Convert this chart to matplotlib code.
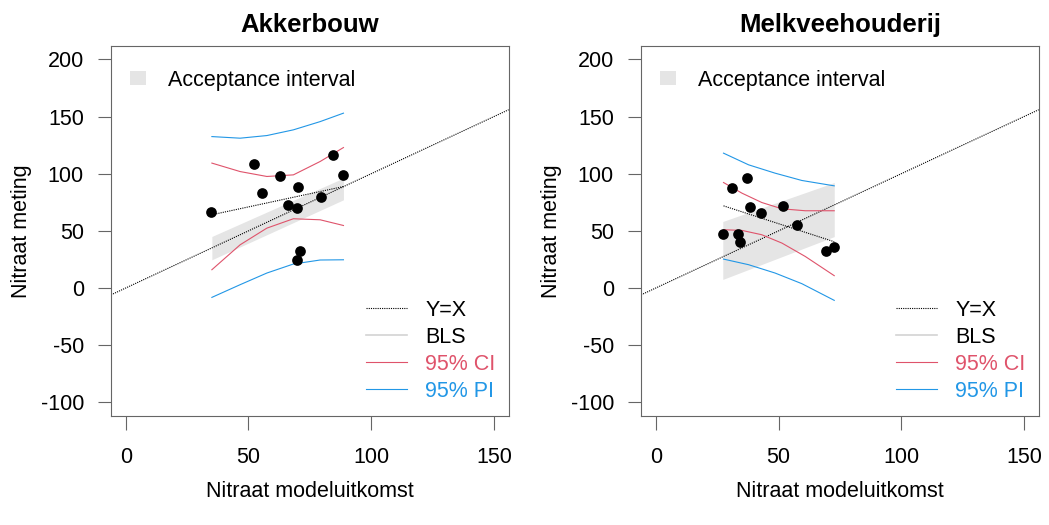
"""Model vs. measurement nitrate, two sectors side by side."""
import matplotlib.pyplot as plt
from matplotlib.lines import Line2D
from matplotlib.patches import Patch

plt.rcParams['font.family'] = ['Liberation Sans', 'DejaVu Sans']
plt.rcParams['axes.unicode_minus'] = False

X_TICKS = [0, 50, 100, 150]
Y_TICKS = [-100, -50, 0, 50, 100, 150, 200]
TITLES = ['Akkerbouw', 'Melkveehouderij']

# --- Akkerbouw ---
akker_model = [34.8, 52.3, 55.4, 62.9, 70.1, 66.0, 69.6, 79.5, 84.4, 88.7, 70.8, 69.8]
akker_meting = [66.1, 108.7, 83.0, 98.2, 88.8, 72.2, 69.9, 79.8, 116.5, 99.3, 32.6, 24.7]
akker_bls_x = [35.1, 88.7]
akker_bls_y = [64.1, 88.8]
akker_band_x = [35.1, 88.7]
akker_band_lo = [24.7, 77.2]
akker_band_hi = [45.1, 96.2]
akker_ci_x = [35.1, 46.6, 57.5, 68.3, 79.2, 88.7]
akker_ci_hi = [109.3, 101.9, 97.6, 99.0, 110.7, 122.9]
akker_ci_lo = [16.0, 37.8, 52.4, 60.6, 59.7, 54.7]
akker_pi_x = [35.1, 46.6, 57.5, 68.3, 79.2, 88.7]
akker_pi_hi = [132.5, 131.1, 133.4, 138.4, 145.6, 153.0]
akker_pi_lo = [-8.2, 2.9, 13.1, 21.0, 24.5, 24.7]

# --- Melkveehouderij ---
melk_model = [27.2, 31.2, 37.2, 33.4, 34.5, 38.4, 42.8, 51.8, 57.7, 69.5, 72.7]
melk_meting = [47.5, 87.9, 96.2, 47.5, 39.9, 70.5, 65.6, 71.9, 54.7, 32.3, 35.8]
melk_bls_x = [27.6, 72.7]
melk_bls_y = [71.9, 40.5]
melk_band_x = [27.3, 72.7]
melk_band_lo = [7.5, 45.0]
melk_band_hi = [58.2, 92.3]
melk_ci_x = [27.6, 35.1, 43.2, 51.4, 60.9, 72.7]
melk_ci_hi = [92.3, 83.0, 74.8, 69.3, 67.6, 67.6]
melk_ci_lo = [51.0, 50.4, 46.6, 39.3, 27.6, 10.8]
melk_pi_x = [27.6, 37.8, 48.6, 59.5, 72.7]
melk_pi_hi = [118.0, 107.8, 100.5, 94.1, 89.4]
melk_pi_lo = [25.3, 20.4, 13.1, 3.8, -10.8]

BAND_COL = '#e5e5e5'
CI_COL = '#DF536B'
PI_COL = '#2297E6'
BLS_COL = '#d3d3d3'
AXIS_COL = '#666666'
FS = 15.5


def panel(ax, title, mx, my, bls_x, bls_y, band_x, band_lo, band_hi,
          ci_x, ci_lo, ci_hi, pi_x, pi_lo, pi_hi):
    ax.fill_between(band_x, band_lo, band_hi, color=BAND_COL, lw=0, zorder=1)
    ax.axline((0, 0), slope=1, color='black', lw=0.8, ls=(0, (1, 1)), zorder=2)
    ax.plot(bls_x, bls_y, color='black', lw=0.8, ls=(0, (1, 1)), zorder=2)
    ax.plot(ci_x, ci_hi, color=CI_COL, lw=0.8, zorder=3)
    ax.plot(ci_x, ci_lo, color=CI_COL, lw=0.8, zorder=3)
    ax.plot(pi_x, pi_hi, color=PI_COL, lw=0.8, zorder=3)
    ax.plot(pi_x, pi_lo, color=PI_COL, lw=0.8, zorder=3)
    ax.plot(mx, my, 'o', color='black', ms=7.7, mew=0, zorder=4)

    ax.set_xlim(-6, 156)
    ax.set_ylim(-112, 212)
    ax.set_xticks(X_TICKS)
    ax.set_yticks(Y_TICKS)
    ax.tick_params(axis='both', direction='out', color=AXIS_COL, width=0.8,
                   labelsize=FS)
    ax.tick_params(axis='x', length=10, pad=12)
    ax.tick_params(axis='y', length=9.5, pad=10)
    for s in ax.spines.values():
        s.set_color(AXIS_COL)
        s.set_linewidth(0.8)

    ax.set_title(title, fontsize=18.5, fontweight='bold', pad=10)
    ax.set_xlabel('Nitraat modeluitkomst', fontsize=FS)
    ax.set_ylabel('Nitraat meting', fontsize=FS)
    ax.xaxis.set_label_coords(0.5, -0.175)
    ax.yaxis.set_label_coords(-0.199, 0.5)

    # two legends: band top-left, lines bottom-right
    band_h = [Patch(facecolor=BAND_COL, edgecolor='none')]
    leg1 = ax.legend(band_h, ['Acceptance interval'], loc='center left',
                     bbox_to_anchor=(0.048, 0.907), frameon=False, fontsize=FS,
                     borderpad=0, borderaxespad=0, handlelength=0.75,
                     handleheight=0.57, handletextpad=1.0)
    ax.add_artist(leg1)
    line_h = [
        Line2D([], [], color='black', lw=0.8, ls=(0, (1, 1))),
        Line2D([], [], color=BLS_COL, lw=1.2),
        Line2D([], [], color=CI_COL, lw=0.8),
        Line2D([], [], color=PI_COL, lw=0.8),
    ]
    ax.legend(line_h, ['Y=X', 'BLS', '95% CI', '95% PI'], loc='lower left',
              bbox_to_anchor=(0.641, 0.038), frameon=False, fontsize=FS,
              borderpad=0, borderaxespad=0, handlelength=1.9,
              handletextpad=0.85, labelspacing=0.28,
              labelcolor=['black', 'black', CI_COL, PI_COL])


def main():
    fig = plt.figure(figsize=(10.49, 5.25), dpi=100)
    ax1 = fig.add_axes([0.1058, 0.2076, 0.3791, 0.7053])
    ax2 = fig.add_axes([0.6111, 0.2076, 0.3791, 0.7053])
    panel(ax1, TITLES[0], akker_model, akker_meting, akker_bls_x, akker_bls_y,
          akker_band_x, akker_band_lo, akker_band_hi,
          akker_ci_x, akker_ci_lo, akker_ci_hi,
          akker_pi_x, akker_pi_lo, akker_pi_hi)
    panel(ax2, TITLES[1], melk_model, melk_meting, melk_bls_x, melk_bls_y,
          melk_band_x, melk_band_lo, melk_band_hi,
          melk_ci_x, melk_ci_lo, melk_ci_hi,
          melk_pi_x, melk_pi_lo, melk_pi_hi)
    fig.savefig('out.png', dpi=100)
    plt.close(fig)


if __name__ == '__main__':
    main()
